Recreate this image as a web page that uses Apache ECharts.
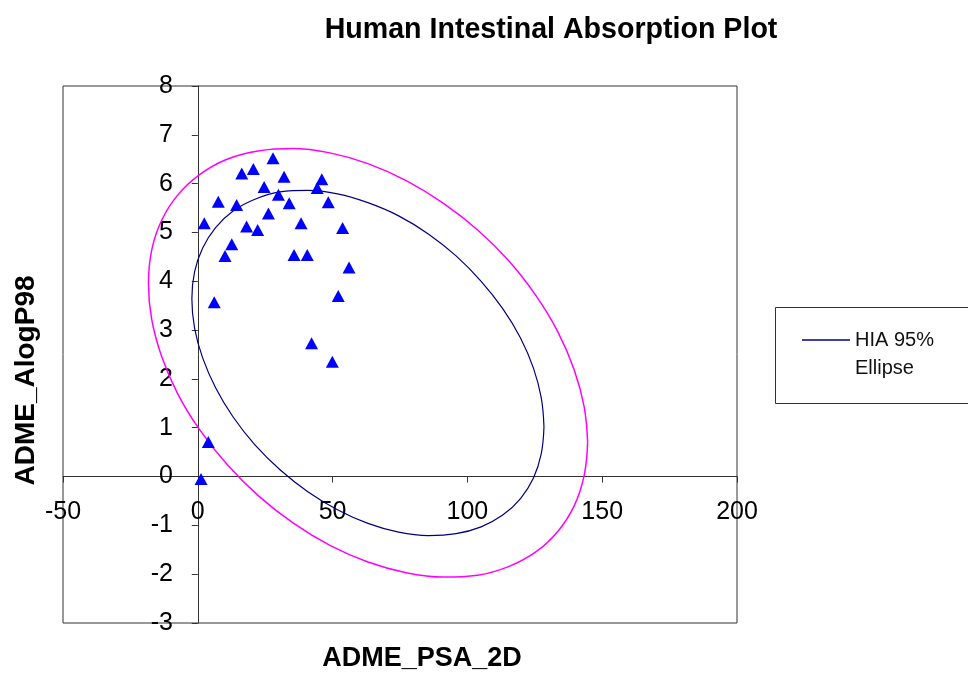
<!DOCTYPE html>
<html>
<head>
<meta charset="utf-8">
<title>Human Intestinal Absorption Plot</title>
<script src="https://cdn.jsdelivr.net/npm/echarts@6/dist/echarts.min.js"></script>
<style>
  html, body { margin: 0; padding: 0; background: #fff; }
  #chart { width: 968px; height: 676px; }
</style>
</head>
<body>
<div id="chart"></div>
<script>
// compounds (PSA_2D vs AlogP98)
const psa = [2.4, 7.6, 14.4, 16.3, 20.6, 24.6, 18.1, 22.2, 26.2, 12.6, 10.1, 27.9, 32.0, 29.9, 33.9,
  46.0, 44.3, 48.4, 38.3, 53.7, 35.7, 40.6, 56.1, 52.1, 42.2, 49.9, 6.1, 3.9, 1.2];
const alogp = [5.19, 5.63, 5.56, 6.21, 6.30, 5.93, 5.12, 5.05, 5.39, 4.76, 4.52, 6.52, 6.14, 5.77, 5.60,
  6.09, 5.91, 5.62, 5.19, 5.09, 4.54, 4.54, 4.28, 3.70, 2.73, 2.35, 3.57, 0.71, -0.05];

// 95% ellipse outline
const e95x = [128.4, 127.4, 124.5, 119.7, 113.1, 105.1, 95.8, 85.5, 74.5, 63.1, 51.8, 40.8, 30.5, 21.2, 13.1, 6.6, 1.8, -1.2, -2.2,
  -1.2, 1.8, 6.6, 13.1, 21.2, 30.5, 40.8, 51.8, 63.1, 74.5, 85.5, 95.8, 105.1, 113.1, 119.7, 124.5, 127.4, 128.4];
const e95y = [1.02, 1.61, 2.22, 2.84, 3.44, 4.00, 4.52, 4.97, 5.34, 5.61, 5.79, 5.86, 5.83, 5.68, 5.44, 5.10, 4.68, 4.19, 3.64,
  3.04, 2.43, 1.82, 1.22, 0.65, 0.14, -0.31, -0.68, -0.96, -1.14, -1.21, -1.17, -1.03, -0.79, -0.45, -0.03, 0.47, 1.02];

// 99% ellipse outline
const e99x = [144.6, 143.3, 139.6, 133.6, 125.5, 115.5, 103.8, 91.0, 77.3, 63.1, 49.0, 35.3, 22.4, 10.8, 0.8, -7.4, -13.4, -17.1, -18.3,
  -17.1, -13.4, -7.4, 0.8, 10.8, 22.4, 35.3, 49.0, 63.1, 77.3, 91.0, 103.8, 115.5, 125.5, 133.6, 139.6, 143.3, 144.6];
const e99y = [0.70, 1.43, 2.19, 2.96, 3.70, 4.41, 5.05, 5.60, 6.06, 6.41, 6.63, 6.72, 6.67, 6.50, 6.19, 5.77, 5.25, 4.64, 3.95,
  3.22, 2.46, 1.69, 0.95, 0.25, -0.39, -0.95, -1.41, -1.75, -1.97, -2.06, -2.02, -1.84, -1.54, -1.12, -0.60, 0.02, 0.70];

const zip = (xs, ys) => xs.map((x, i) => [x, ys[i]]);

const FONT = '"Liberation Sans", Arial, sans-serif';
const AXIS_COLOR = '#333';

const chart = echarts.init(document.getElementById('chart'));

chart.setOption({
  animation: false,
  textStyle: { fontFamily: FONT, color: '#000' },
  title: {
    text: 'Human Intestinal Absorption Plot',
    left: 546,
    top: 11,
    textAlign: 'center',
    textStyle: { fontFamily: FONT, fontSize: 28.6, fontWeight: 'bold', color: '#000' }
  },
  grid: {
    left: 63, right: 231, top: 86, bottom: 53,
    containLabel: false,
    outerBoundsMode: 'none',
    show: true, borderColor: AXIS_COLOR, borderWidth: 1, backgroundColor: '#fff'
  },
  legend: {
    data: ['HIA 95% Ellipse'],
    icon: 'rect',
    left: 802,
    top: 298,
    padding: 0,
    itemWidth: 48,
    itemHeight: 1.5,
    itemGap: 0,
    // blank first line keeps the key line level with "HIA 95%"
    formatter: () => ' \nHIA 95%\nEllipse',
    textStyle: { fontFamily: FONT, fontSize: 20, lineHeight: 28, color: '#111' }
  },
  graphic: [{
    type: 'rect',
    shape: { x: 775.5, y: 307.5, width: 220, height: 96 },
    style: { fill: 'none', stroke: AXIS_COLOR, lineWidth: 1 },
    silent: true
  }],
  xAxis: {
    type: 'value',
    min: -50, max: 200, interval: 50,
    name: 'ADME_PSA_2D',
    nameLocation: 'middle',
    nameGap: 22,
    nameTextStyle: { fontFamily: FONT, fontSize: 27, fontWeight: 'bold', color: '#000', padding: [0, 0, 0, 44] },
    axisLine: { onZero: true, lineStyle: { color: AXIS_COLOR, width: 1 } },
    axisTick: { show: true, length: 6, lineStyle: { color: AXIS_COLOR } },
    axisLabel: { fontFamily: FONT, fontSize: 25, color: '#000', margin: -123 },
    splitLine: { show: false }
  },
  yAxis: {
    type: 'value',
    min: -3, max: 8, interval: 1,
    name: 'ADME_AlogP98',
    nameLocation: 'middle',
    nameGap: 23,
    nameTextStyle: { fontFamily: FONT, fontSize: 28, fontWeight: 'bold', color: '#000', padding: [0, 52, 0, 0] },
    axisLine: { onZero: true, lineStyle: { color: AXIS_COLOR, width: 1 } },
    axisTick: { show: true, length: 6, lineStyle: { color: AXIS_COLOR } },
    axisLabel: { fontFamily: FONT, fontSize: 25, color: '#000', margin: -110 },
    splitLine: { show: false }
  },
  series: [
    {
      name: 'HIA 99% Ellipse',
      type: 'line',
      data: zip(e99x, e99y),
      symbol: 'none',
      smooth: 0.4,
      lineStyle: { color: '#ff00ff', width: 1.5 },
      itemStyle: { color: '#ff00ff' },
      z: 2
    },
    {
      name: 'HIA 95% Ellipse',
      type: 'line',
      data: zip(e95x, e95y),
      symbol: 'none',
      smooth: 0.4,
      lineStyle: { color: '#000080', width: 1.2 },
      itemStyle: { color: '#000080' },
      z: 3
    },
    {
      name: 'Compounds',
      type: 'scatter',
      data: zip(psa, alogp),
      symbol: 'triangle',
      symbolSize: [13, 12],
      itemStyle: { color: '#0000ff', opacity: 1 },
      z: 4
    }
  ]
});
</script>
</body>
</html>
